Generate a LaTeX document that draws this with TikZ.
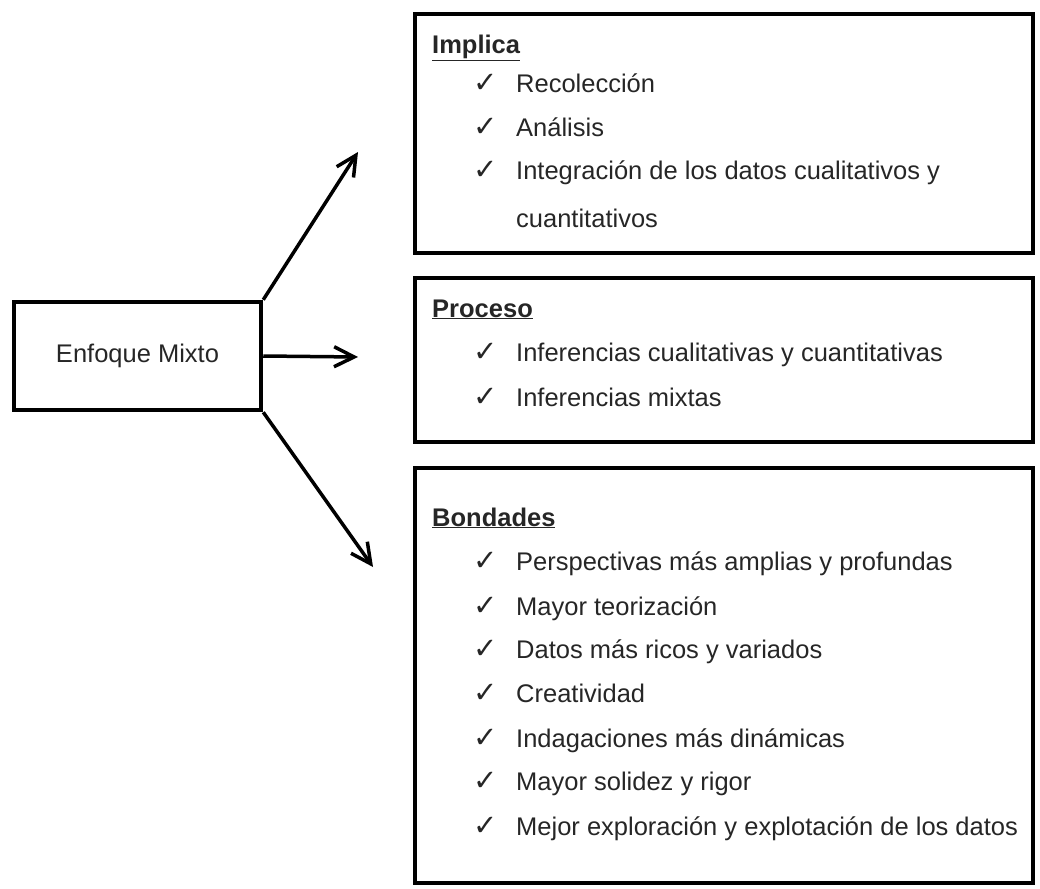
\documentclass[tikz,border=0pt]{standalone}
\usepackage{fontspec}
\setmainfont{Liberation Sans}
\newfontfamily\checkfont{DejaVu Sans}
\usepackage{tikz}
\usetikzlibrary{arrows.meta}

\tikzset{
    panel/.style={draw, line width=4.5pt, inner sep=0pt},
    entry/.style={anchor=base west, inner sep=0pt, text=black!85, font=\fontsize{25.5}{30}\selectfont},
    heading/.style={entry, font=\bfseries\fontsize{25.5}{30}\selectfont},
    tick/.style={anchor=base west, inner sep=0pt, text=black!85, font=\checkfont\fontsize{29}{32}\selectfont},
    link/.style={line width=3.5pt, -{Straight Barb[length=20pt, width=20pt, line width=3.5pt]}}
}

\begin{document}
\begin{tikzpicture}[x=1pt, y=-1pt]
    \useasboundingbox (0,0) rectangle (1040,888);
    \node[panel, minimum width=247, minimum height=108, entry, anchor=center] (mixto) at (137.5,356) {Enfoque Mixto};
    \node[panel, minimum width=618, minimum height=239] (implica) at (724,133.5) {};
    \node[panel, minimum width=618, minimum height=164] (proceso) at (724,360) {};
    \node[panel, minimum width=618, minimum height=415] (bondades) at (724,675.5) {};
    \coordinate (toimplica) at (358,152);
    \coordinate (toproceso) at (358,357);
    \coordinate (tobondades) at (373,567);
    \draw[link] (mixto.north east) -- (toimplica);
    \draw[link] (mixto.east) -- (toproceso);
    \draw[link] (mixto.south east) -- (tobondades);

    \node[heading] (himplica) at (432,54) {\underline{Implica}};
    \node[tick] (c11) at (473,93) {✓};   \node[entry] (t11) at (516,93) {Recolección};
    \node[tick] (c12) at (473,136) {✓};  \node[entry] (t12) at (516,136) {Análisis};
    \node[tick] (c13) at (473,179) {✓};  \node[entry] (t13) at (516,179) {Integración de los datos cualitativos y};
    \node[entry] (t14) at (516,227) {cuantitativos};

    \node[heading] (hproceso) at (432,317) {\underline{Proceso}};
    \node[tick] (c21) at (473,361) {✓};  \node[entry] (t21) at (516,361) {Inferencias cualitativas y cuantitativas};
    \node[tick] (c22) at (473,406) {✓};  \node[entry] (t22) at (516,406) {Inferencias mixtas};

    \node[heading] (hbondades) at (432,526) {\underline{Bondades}};
    \node[tick] (c31) at (473,570) {✓};  \node[entry] (t31) at (516,570) {Perspectivas más amplias y profundas};
    \node[tick] (c32) at (473,615) {✓};  \node[entry] (t32) at (516,615) {Mayor teorización};
    \node[tick] (c33) at (473,658) {✓};  \node[entry] (t33) at (516,658) {Datos más ricos y variados};
    \node[tick] (c34) at (473,702) {✓};  \node[entry] (t34) at (516,702) {Creatividad};
    \node[tick] (c35) at (473,747) {✓};  \node[entry] (t35) at (516,747) {Indagaciones más dinámicas};
    \node[tick] (c36) at (473,790) {✓};  \node[entry] (t36) at (516,790) {Mayor solidez y rigor};
    \node[tick] (c37) at (473,835) {✓};  \node[entry] (t37) at (516,835) {Mejor exploración y explotación de los datos};
\end{tikzpicture}
\end{document}
